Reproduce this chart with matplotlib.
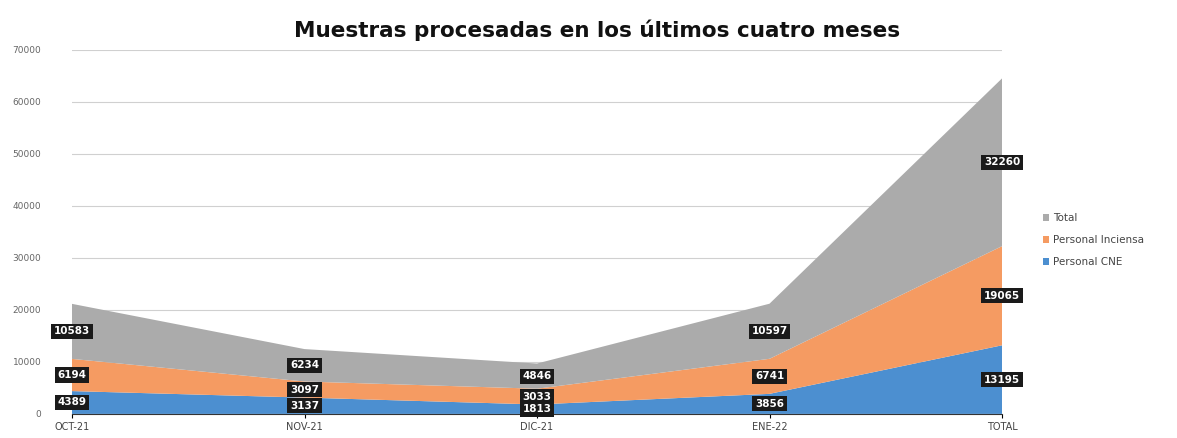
import matplotlib.pyplot as plt
import numpy as np

# datos
meses = ['OCT-21', 'NOV-21', 'DIC-21', 'ENE-22', 'TOTAL']
cne = [4389, 3137, 1813, 3856, 13195]
inciensa = [6194, 3097, 3033, 6741, 19065]
total = [10583, 6234, 4846, 10597, 32260]

colores = ['#4C8FD0', '#F59B62', '#ABABAB']
nombres = ['Personal CNE', 'Personal Inciensa', 'Total']

fig = plt.figure(figsize=(11.77, 4.38), dpi=100)
ax = fig.add_axes([72/1177, 0.055, (1002-72)/1177, 0.831])

x = np.arange(len(meses))
series = [cne, inciensa, total]
ax.stackplot(x, series, colors=colores, labels=nombres, zorder=2)

# etiquetas en el centro de cada banda
base = np.zeros(len(meses))
for s in series:
    s = np.array(s)
    for i in range(len(meses)):
        ax.text(x[i], base[i] + s[i]/2, str(s[i]), ha='center', va='center',
                color='white', fontsize=7.5, fontweight='bold', zorder=4,
                bbox=dict(boxstyle='square,pad=0.25', fc='#1a1a1a', ec='none'))
    base = base + s

ax.set_xlim(0, 4)
ax.set_ylim(0, 70000)
ax.set_yticks(range(0, 70001, 10000))
ax.set_xticks(x)
ax.set_xticklabels(meses)
ax.yaxis.grid(True, color='#d0d0d0', linewidth=0.8, zorder=0)
ax.set_axisbelow(True)
for sp in ['top', 'right', 'left']:
    ax.spines[sp].set_visible(False)
ax.spines['bottom'].set_color('#333333')
ax.spines['bottom'].set_zorder(3)
ax.tick_params(axis='y', length=0, labelsize=6.5, labelcolor='#666666', pad=22)
ax.tick_params(axis='x', length=3, labelsize=7, labelcolor='#444444', pad=3)

fig.text(0.507, 0.93, 'Muestras procesadas en los últimos cuatro meses',
         ha='center', va='center', fontsize=15.5, fontweight='bold', color='#111111')

handles, labels = ax.get_legend_handles_labels()
leg = fig.legend(handles[::-1], labels[::-1], loc='center left',
                 bbox_to_anchor=(0.878, 0.452), frameon=False, fontsize=7.5,
                 handlelength=0.6, handleheight=0.6, handletextpad=0.4,
                 labelspacing=1.15, labelcolor='#444444')

fig.savefig('out.png', dpi=100)
